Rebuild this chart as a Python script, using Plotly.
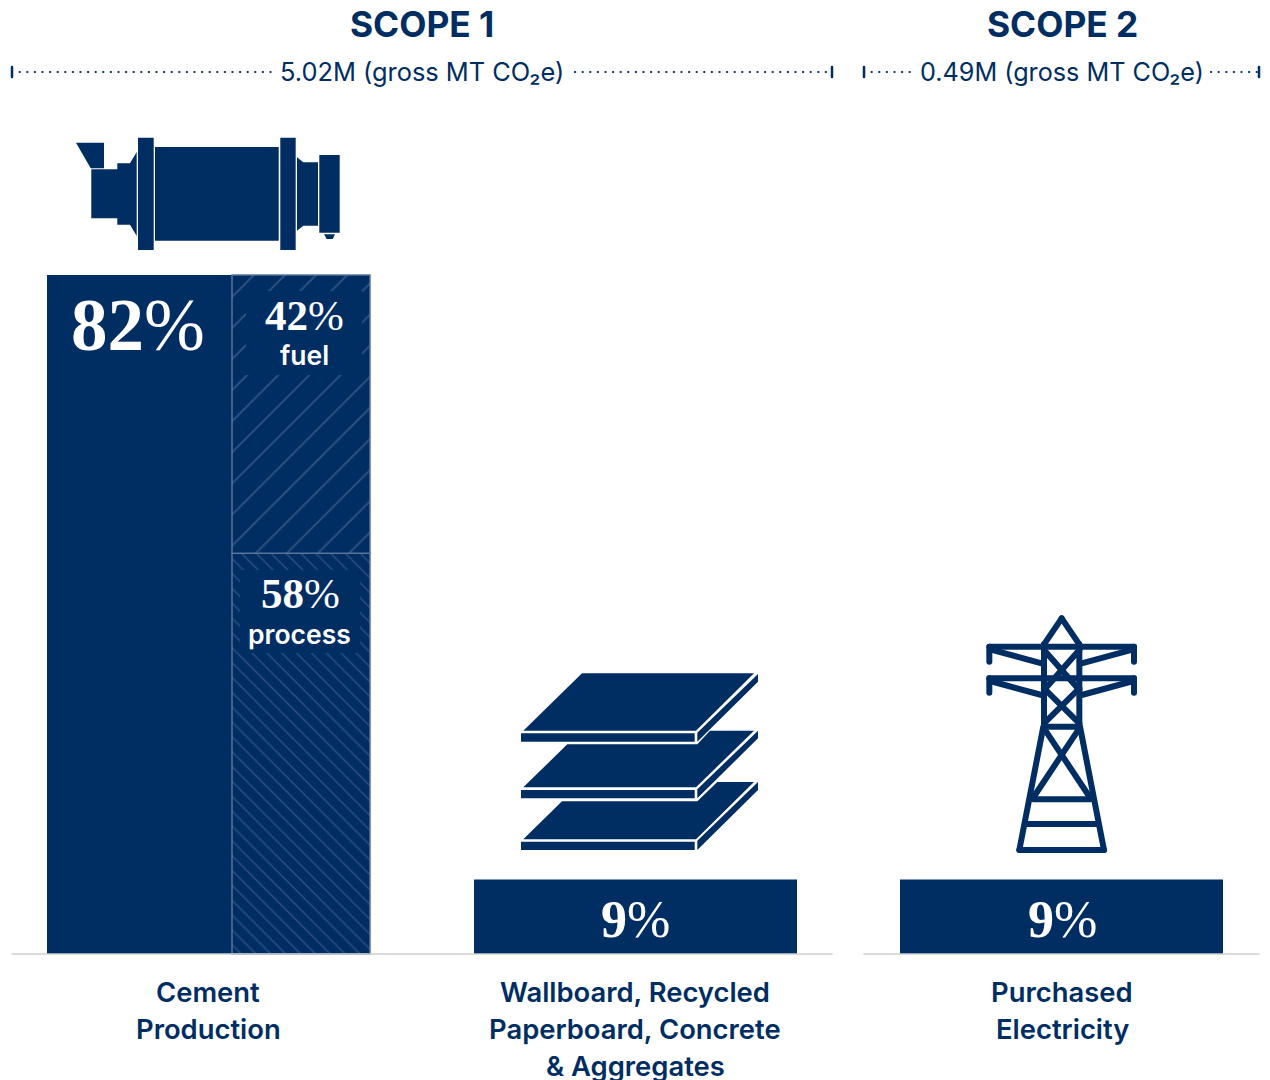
import plotly.graph_objects as go

W, H = 1270, 1080
NAVY = "#002d62"
HATCH = "#5a739c"
SANS = "Inter"
SERIF = "Liberation Serif"

# chart values
category_lines = [["Cement", "Production"],
                  ["Wallboard, Recycled", "Paperboard, Concrete", "& Aggregates"],
                  ["Purchased", "Electricity"]]
share_labels = ["82", "9", "9"]
share_values = [82, 9, 9]
process_height = [48.4]
fuel_height = [33.6]
split_labels = [("42", "fuel"), ("58", "process")]
scope_titles = ["SCOPE 1", "SCOPE 2"]
scope_totals = ["5.02M (gross MT CO₂e)", "0.49M (gross MT CO₂e)"]

# layout: x axis runs in pixels, y axis in percent with 0 on the baseline
BASE_PX = 954
PX_PER_PCT = 679 / 82
bar_left = [47, 474, 900]
bar_width = [185, 323, 323]
label_x = [208, 635, 1062]


def px_x(x):
    return x / W


def px_y(y):
    return 1 - y / H


def path(points, close=True):
    d = " ".join(("M" if i == 0 else "L") + f"{px_x(x):.5f},{px_y(y):.5f}"
                 for i, (x, y) in enumerate(points))
    return d + (" Z" if close else "")


def rect(x0, y0, x1, y1):
    return [(x0, y0), (x1, y0), (x1, y1), (x0, y1)]


fig = go.Figure()

fig.add_trace(go.Bar(
    x=[l + w / 2 for l, w in zip(bar_left, bar_width)],
    y=share_values,
    width=bar_width,
    marker=dict(color=NAVY, line=dict(width=0)),
    hoverinfo="skip",
))
fig.add_trace(go.Bar(
    x=[301], y=process_height, width=[138],
    marker=dict(color=NAVY, line=dict(color=HATCH, width=1.5),
                pattern=dict(shape="\\", fgcolor=HATCH, bgcolor=NAVY, size=10.5, solidity=0.14)),
    hoverinfo="skip",
))
fig.add_trace(go.Bar(
    x=[301], y=fuel_height, base=process_height, width=[138],
    marker=dict(color=NAVY, line=dict(color=HATCH, width=1.5),
                pattern=dict(shape="/", fgcolor=HATCH, bgcolor=NAVY, size=22, solidity=0.09)),
    hoverinfo="skip",
))

shapes = []


def add_fill(points, color=NAVY):
    shapes.append(dict(type="path", xref="paper", yref="paper", path=path(points),
                       fillcolor=color, line=dict(width=0), layer="above"))


def add_line(points, width=5, dash="solid", color=NAVY):
    shapes.append(dict(type="path", xref="paper", yref="paper", path=path(points, close=False),
                       line=dict(color=color, width=width, dash=dash), layer="above"))


# plates behind the split labels
add_fill(rect(246, 291, 362, 375))
add_fill(rect(240, 570, 360, 653))

# baselines
add_line([(12, BASE_PX), (832, BASE_PX)], width=1.5, color="#cfcfcf")
add_line([(864, BASE_PX), (1259, BASE_PX)], width=1.5, color="#cfcfcf")

# dotted brackets
for x0, x1 in [(12, 272), (575, 832), (864, 915), (1211, 1259)]:
    add_line([(x0, 72), (x1, 72)], width=2.2, dash="0.2px,7.4px")
for x in [12, 832, 864, 1259]:
    add_line([(x, 67), (x, 77)], width=2.5)

# kiln icon
add_fill([(76, 142.7), (104, 142.7), (104, 168.3), (90.7, 168.3)])
add_fill([(91.3, 169.3), (117.3, 169.3), (117.3, 163.3), (130, 163.3), (136.7, 152), (136.7, 236),
          (130, 224.7), (117.3, 224.7), (117.3, 218.3), (91.3, 218.3)])
add_fill(rect(138, 137.7, 153.7, 250))
add_fill(rect(155, 147, 278.7, 240.7))
add_fill(rect(280.3, 137.7, 295.7, 250))
add_fill([(297, 157.3), (303.3, 162.3), (318, 162.3), (318, 225.7), (303.3, 225.7), (297, 230.7)])
add_fill(rect(319.3, 155, 339.7, 232.7))
add_fill([(324, 234.3), (335, 234.3), (332.7, 239), (326.7, 239)])

# stacked sheets icon
add_fill([(582, 673.3), (754, 673.3), (696, 730.7), (523.3, 730.7)])
add_fill(rect(521, 733.3, 694.7, 741.7))
add_fill([(697.3, 732.7), (758, 674), (758, 681.7), (697.3, 741.7)])
add_fill([(567.3, 744.3), (697.3, 744.3), (710, 730.7), (754, 730.7), (696, 787.3), (523.3, 787.3)])
add_fill(rect(521, 790, 694.7, 798.3))
add_fill([(697.3, 789.3), (758, 730.7), (758, 738.3), (697.3, 798.3)])
add_fill([(562, 801.3), (697.3, 801.3), (717.3, 782), (754, 782), (696, 839.3), (523.3, 839.3)])
add_fill(rect(521, 841.7, 694.7, 850))
add_fill([(697.3, 840.7), (758, 782), (758, 790), (697.3, 850)])

tower = [
    [(275, 25), (222, 103)], [(275, 25), (328, 103)],
    [(58, 110), (492, 110)], [(58, 110), (58, 155)], [(492, 110), (492, 155)],
    [(58, 205), (492, 205)], [(58, 205), (58, 248)], [(492, 205), (492, 248)],
    [(222, 103), (222, 350)], [(328, 103), (328, 350)],
    [(222, 120), (328, 240)], [(328, 120), (222, 240)],
    [(222, 235), (328, 340)], [(328, 235), (222, 340)],
    [(222, 350), (328, 350)],
    [(60, 118), (215, 160)], [(490, 118), (335, 160)],
    [(60, 213), (215, 255)], [(490, 213), (335, 255)],
    [(220, 350), (148, 720)], [(330, 350), (402, 720)], [(148, 720), (402, 720)],
    [(222, 355), (355, 555)], [(328, 355), (195, 555)],
    [(190, 568), (362, 568)], [(170, 642), (380, 642)],
]
for seg in tower:
    add_line([(970 + x / 3, 610 + y / 3) for x, y in seg], width=6)

annotations = []


def add_text(text, x, y, size, color=NAVY, family=SANS, weight=None):
    annotations.append(dict(text=text, xref="paper", yref="paper", x=px_x(x), y=px_y(y),
                            xanchor="center", yanchor="middle", showarrow=False,
                            font=dict(family=family, size=size, color=color, weight=weight)))


def add_pct(value, x, y, size):
    # digits are heavy in the reference, the percent sign is not
    add_text(f"<b>{value}</b>%", x, y, size, color="white", family=SERIF)


add_text(scope_titles[0], 422, 25, 35.3, weight=700)
add_text(scope_titles[1], 1062, 25, 35.3, weight=700)
add_text(scope_totals[0], 422, 71.5, 25.4, weight=400)
add_text(scope_totals[1], 1062, 71.5, 25.2, weight=400)

for lines, x in zip(category_lines, label_x):
    for i, line in enumerate(lines):
        add_text(line, x, 992 + i * 37, 27.4, weight=600)

add_pct(share_labels[0], 138, 325, 73)
add_pct(share_labels[1], 635, 919, 52)
add_pct(share_labels[2], 1062, 919, 52)
add_pct(split_labels[0][0], 304, 315.5, 43)
add_text(split_labels[0][1], 304, 355, 26.5, color="white", weight=600)
add_pct(split_labels[1][0], 300, 593.5, 43)
add_text(split_labels[1][1], 299.5, 633.5, 26.5, color="white", weight=600)

fig.update_layout(
    width=W, height=H,
    margin=dict(l=0, r=0, t=0, b=0),
    paper_bgcolor="white", plot_bgcolor="white",
    showlegend=False,
    barmode="overlay",
    xaxis=dict(range=[0, W], visible=False, fixedrange=True),
    yaxis=dict(range=[-(H - BASE_PX) / PX_PER_PCT, BASE_PX / PX_PER_PCT], visible=False, fixedrange=True),
    shapes=shapes,
    annotations=annotations,
)

# round caps for the pylon and the bracket dots
fig.write_html("out.html", config={"displayModeBar": False},
               post_script="document.body.style.margin='0';"
                           "document.querySelectorAll('.shapelayer path').forEach(function(p){"
                           "p.style.strokeLinecap='round';});")
